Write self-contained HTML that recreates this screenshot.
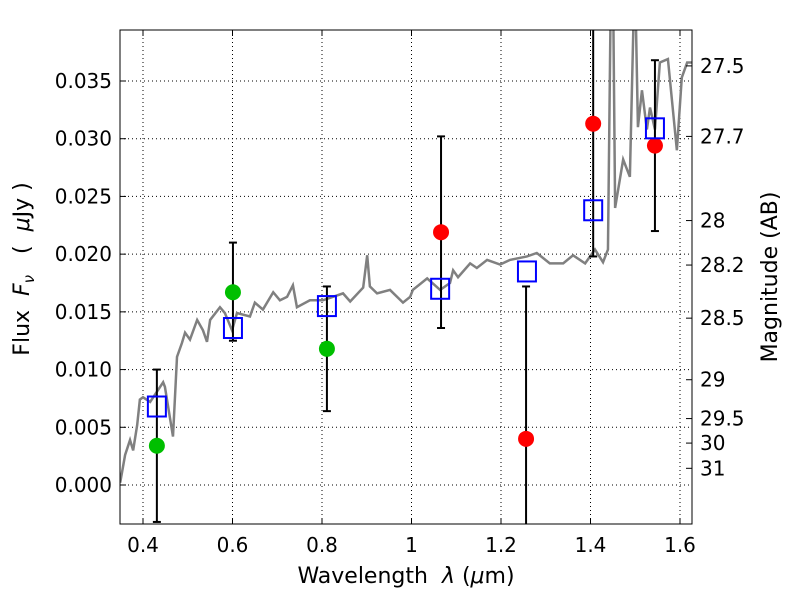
<!DOCTYPE html>
<html><head><meta charset="utf-8"><style>
body{margin:0;background:#fff;}
svg text{font-family:"DejaVu Sans","Liberation Sans",sans-serif;font-size:20px;fill:#000;white-space:pre;}
svg text.title{font-size:22px;}
</style></head><body>
<svg id="chart" width="800" height="600" xmlns="http://www.w3.org/2000/svg">
<defs><clipPath id="clip"><rect x="120" y="30" width="572" height="494"/></clipPath></defs>
<rect x="0" y="0" width="800" height="600" fill="#fff"/>
<g id="grid"></g>
<g id="marks" clip-path="url(#clip)"></g>
<g id="axes"></g>
<text class="title" x="406" y="583" text-anchor="middle">Wavelength  <tspan font-style="italic">λ</tspan> (<tspan font-style="italic">μ</tspan>m)</text>
<text class="title" transform="translate(29,269) rotate(-90)" text-anchor="middle">Flux  <tspan font-style="italic">F</tspan><tspan font-style="italic" font-size="15" dy="5">ν</tspan><tspan dy="-5">   (  </tspan><tspan font-style="italic">μ</tspan>Jy )</text>
<text class="title" transform="translate(777,277) rotate(-90)" text-anchor="middle">Magnitude (AB)</text>
</svg>
<script>
const specLam=[0.349,0.360,0.371,0.378,0.387,0.393,0.400,0.416,0.445,0.449,0.467,0.476,0.487,0.494,0.505,0.521,0.534,0.543,0.550,0.572,0.583,0.599,0.610,0.639,0.650,0.668,0.691,0.706,0.722,0.735,0.744,0.773,0.802,0.847,0.863,0.892,0.901,0.907,0.923,0.952,0.981,0.997,1.003,1.035,1.064,1.086,1.093,1.104,1.131,1.146,1.169,1.198,1.220,1.258,1.280,1.309,1.339,1.361,1.388,1.410,1.428,1.439,1.446,1.450,1.455,1.473,1.488,1.499,1.506,1.515,1.526,1.533,1.544,1.555,1.573,1.593,1.604,1.616,1.627];
const specFlux=[0.0002,0.0026,0.0039,0.0030,0.0052,0.0074,0.0076,0.0072,0.0089,0.0085,0.0042,0.0111,0.0123,0.0132,0.0126,0.0143,0.0134,0.0124,0.0143,0.0154,0.0149,0.0134,0.0149,0.0146,0.0158,0.0152,0.0167,0.0160,0.0163,0.0173,0.0154,0.0160,0.0160,0.0166,0.0159,0.0171,0.0199,0.0172,0.0166,0.0169,0.0158,0.0163,0.0169,0.0179,0.0169,0.0175,0.0186,0.0180,0.0192,0.0188,0.0195,0.0191,0.0195,0.0198,0.0201,0.0192,0.0192,0.0199,0.0192,0.0204,0.0193,0.0204,0.045,0.045,0.0240,0.0282,0.0267,0.045,0.0310,0.0342,0.0308,0.0327,0.0308,0.0366,0.0369,0.0290,0.0353,0.0366,0.0366];
const greenLam=[0.431,0.601,0.811];
const greenFlux=[0.0034,0.0167,0.0118];
const greenHi=[0.0100,0.0210,0.0172];
const greenLo=[-0.0032,0.0125,0.0064];
const redLam=[1.066,1.256,1.406,1.544];
const redFlux=[0.0219,0.0040,0.0313,0.0294];
const redHi=[0.0302,0.0172,0.045,0.0368];
const redLo=[0.0136,-0.006,0.0198,0.0220];
const modelLam=[0.431,0.601,0.811,1.064,1.258,1.406,1.544];
const modelFlux=[0.0068,0.0136,0.0155,0.0170,0.0185,0.0238,0.0309];
const xTicks=[0.4,0.6,0.8,1.0,1.2,1.4,1.6];
const xTickLabels=["0.4","0.6","0.8","1","1.2","1.4","1.6"];
const yTicks=[0,0.005,0.01,0.015,0.02,0.025,0.03,0.035];
const yTickLabels=["0.000","0.005","0.010","0.015","0.020","0.025","0.030","0.035"];
const magTicks=[27.5,27.7,28,28.2,28.5,29,29.5,30,31];

const NS="http://www.w3.org/2000/svg";
const L=120,R=692,T=30,B=524;
const X=v=>143+(v-0.4)*447.5;
const Y=v=>485-v*11543;
const magToFlux=m=>Math.pow(10,(23.9-m)/2.5);
function mk(tag,attrs,parent){const e=document.createElementNS(NS,tag);for(const k in attrs)e.setAttribute(k,attrs[k]);document.getElementById(parent).appendChild(e);return e;}

xTicks.forEach((t,i)=>{
  const l=mk('line',{x1:X(t),x2:X(t),y1:T,y2:B,stroke:'#000','stroke-width':1,'stroke-dasharray':'1,3'},'grid');
  
  
  mk('line',{x1:X(t),x2:X(t),y1:B,y2:B-6,stroke:'#000'},'axes');
  mk('line',{x1:X(t),x2:X(t),y1:T,y2:T+6,stroke:'#000'},'axes');
  const tx=mk('text',{x:X(t),y:552,'text-anchor':'middle'},'axes');
  tx.textContent=xTickLabels[i];
  
  
});
yTicks.forEach((t,i)=>{
  const l=mk('line',{x1:L,x2:R,y1:Y(t),y2:Y(t),stroke:'#000','stroke-width':1,'stroke-dasharray':'1,3'},'grid');
  
  
  mk('line',{x1:L,x2:L+6,y1:Y(t),y2:Y(t),stroke:'#000'},'axes');
  const tx=mk('text',{x:112,y:Y(t)+7,'text-anchor':'end'},'axes');
  tx.textContent=yTickLabels[i];
  
  
});
magTicks.forEach(m=>{
  const y=Y(magToFlux(m));
  mk('line',{x1:R-6,x2:R,y1:y,y2:y,stroke:'#000'},'axes');
  const tx=mk('text',{x:700,y:y+7,'text-anchor':'start'},'axes');
  tx.textContent=String(m);
  
  
});
const fr=mk('rect',{x:L,y:T,width:R-L,height:B-T,fill:'none',stroke:'#000','stroke-width':1},'axes');



const sp=mk('polyline',{points:specLam.map((l,i)=>X(l)+','+Y(specFlux[i])).join(' '),fill:'none',stroke:'#808080','stroke-width':2.5},'marks');



function errbar(lam,hi,lo){
  const x=X(lam);
  const g=mk('g',{},'marks');
  
  
  const mkl=(a)=>{const e=document.createElementNS(NS,'line');for(const k in a)e.setAttribute(k,a[k]);g.appendChild(e);};
  mkl({x1:x,x2:x,y1:Y(hi),y2:Y(lo),stroke:'#000','stroke-width':2});
  mkl({x1:x-4,x2:x+4,y1:Y(hi),y2:Y(hi),stroke:'#000','stroke-width':2});
  mkl({x1:x-4,x2:x+4,y1:Y(lo),y2:Y(lo),stroke:'#000','stroke-width':2});
}
greenLam.forEach((l,i)=>errbar(l,greenHi[i],greenLo[i]));
redLam.forEach((l,i)=>errbar(l,redHi[i],redLo[i]));
greenLam.forEach((l,i)=>{
  const c=mk('circle',{cx:X(l),cy:Y(greenFlux[i]),r:8,fill:'#00bf00'},'marks');
  
  
});
redLam.forEach((l,i)=>{
  const c=mk('circle',{cx:X(l),cy:Y(redFlux[i]),r:8,fill:'#ff0000'},'marks');
  
  
});
modelLam.forEach((l,i)=>{
  const r=mk('rect',{x:X(l)-9,y:Y(modelFlux[i])-10,width:18,height:20,fill:'none',stroke:'#0000ff','stroke-width':2},'marks');
  
  
});
</script>
</body></html>
